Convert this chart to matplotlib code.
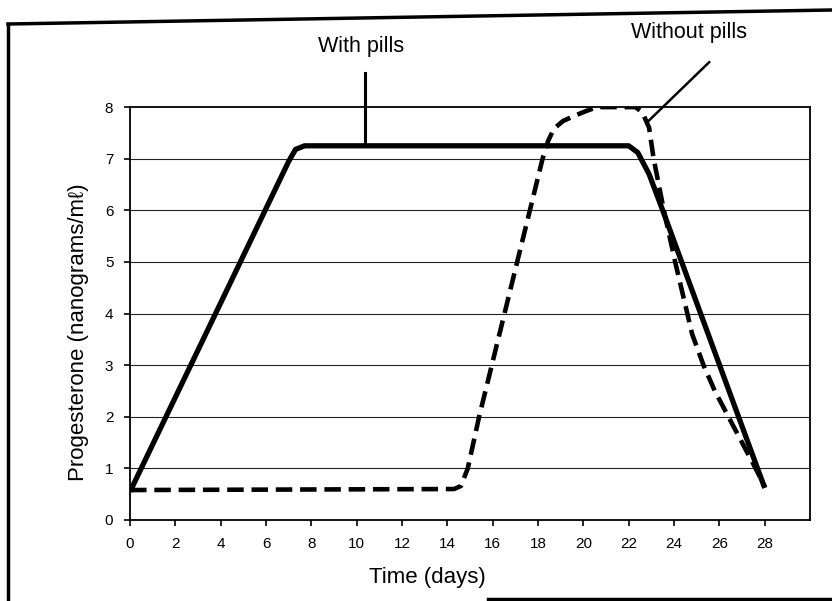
import matplotlib.pyplot as plt
from matplotlib.lines import Line2D

plt.rcParams['font.family'] = ['Liberation Sans', 'DejaVu Sans']

# "With pills" curve (day, ng/ml)
with_days = [0, 7.0, 7.3, 7.7, 22.0, 22.4, 22.9, 23.5, 28.0]
with_prog = [0.55, 6.95, 7.18, 7.25, 7.25, 7.12, 6.7, 6.0, 0.62]

# "Without pills" curve
without_days = [0, 14.3, 14.6, 14.9, 15.4, 18.2, 18.45, 18.7, 19.1, 19.6, 20.1, 20.6,
                22.3, 22.6, 22.9, 23.1, 23.55, 24.05, 24.8, 25.3, 25.8, 26.4,
                27.0, 27.6, 28.0]
without_prog = [0.58, 0.6, 0.66, 1.0, 2.0, 7.0, 7.35, 7.58, 7.73, 7.83, 7.92, 8.0,
                8.0, 7.9, 7.6, 7.0, 6.0, 5.0, 3.6, 3.0, 2.5, 2.0,
                1.5, 1.0, 0.65]

x_ticks = list(range(0, 29, 2))
y_ticks = list(range(0, 9))

fig = plt.figure(figsize=(8.32, 6.01), dpi=100)
ax = fig.add_axes([0.1563, 0.1348, 0.8173, 0.687])

for y in y_ticks[1:-1]:
    ax.axhline(y, color='#222222', linewidth=0.8, zorder=1)

ax.plot(with_days, with_prog, color='black', linewidth=3.8,
        solid_joinstyle='round', solid_capstyle='butt', zorder=3)
ax.plot(without_days, without_prog, color='black', linewidth=3.3,
        dashes=(3.6, 1.7), dash_joinstyle='round', zorder=3)

ax.set_xlim(0, 30)
ax.set_ylim(0, 8)
ax.set_xticks(x_ticks)
ax.set_yticks(y_ticks)
ax.tick_params(axis='both', direction='out', length=4, width=1.2,
               labelsize=11, color='black')
ax.tick_params(axis='x', pad=8)
ax.tick_params(axis='y', pad=8)
for side in ['left', 'bottom', 'right', 'top']:
    ax.spines[side].set_linewidth(1.3)
    ax.spines[side].set_color('black')

ax.set_xlabel('Time (days)', fontsize=16)
ax.xaxis.set_label_coords(0.437, -0.113)
ax.set_ylabel('Progesterone (nanograms/mℓ)', fontsize=16)
ax.yaxis.set_label_coords(-0.061, 0.455)

# callouts
ax.text(10.2, 9.17, 'With pills', ha='center', va='center', fontsize=15.5,
        clip_on=False)
ax.plot([10.35, 10.35], [8.67, 7.3], color='black', linewidth=2.2,
        clip_on=False, zorder=4)
ax.text(24.65, 9.44, 'Without pills', ha='center', va='center', fontsize=15.5,
        clip_on=False)
ax.plot([22.8, 25.55], [7.7, 8.87], color='black', linewidth=1.8,
        clip_on=False, zorder=4)

# scanned page frame
fig.add_artist(Line2D([8 / 832, 8 / 832], [0, 1 - 24 / 601],
                      color='black', linewidth=2.5, transform=fig.transFigure))
fig.add_artist(Line2D([8 / 832, 1.0], [1 - 24 / 601, 1 - 10 / 601],
                      color='black', linewidth=2.5, transform=fig.transFigure))
fig.add_artist(Line2D([488 / 832, 1.0], [2 / 601, 2 / 601],
                      color='black', linewidth=2.5, transform=fig.transFigure))

fig.savefig('out.png', dpi=100)
